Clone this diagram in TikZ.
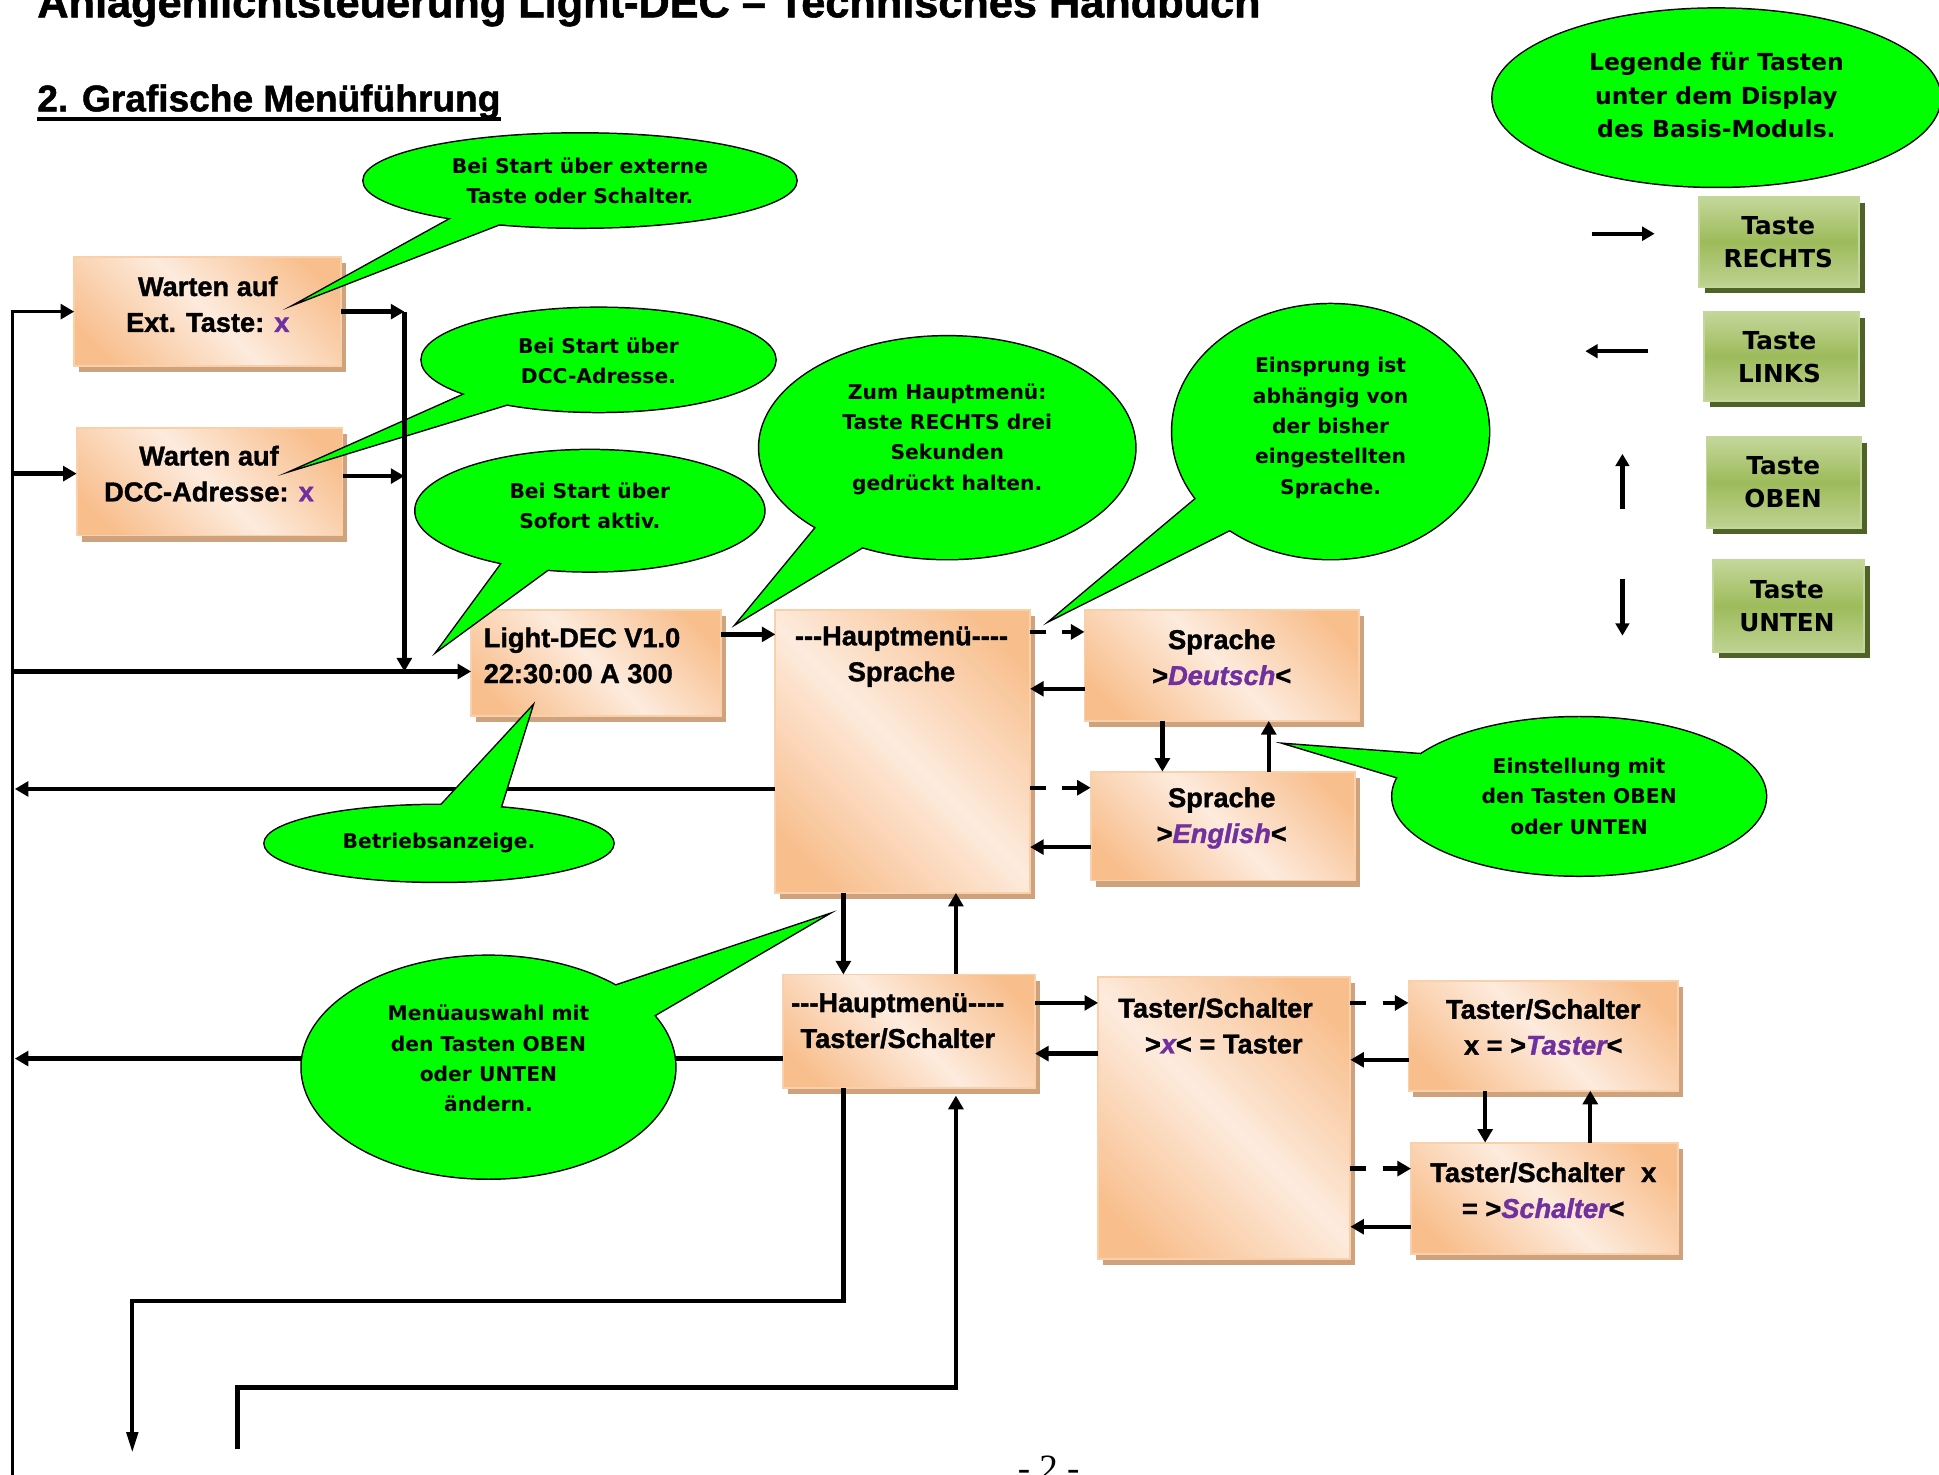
\documentclass[tikz,border=0pt]{standalone}
\usepackage{fontspec}
\setmainfont{Liberation Sans}[BoldFeatures={FakeBold=1.3}, BoldItalicFeatures={FakeBold=1.3}]
\newfontfamily\balfam{DejaVu Sans}
\newfontfamily\serfam{Liberation Serif}
\usetikzlibrary{arrows.meta,shadows,calc}
\definecolor{pdk}{HTML}{F8BE8C}
\definecolor{plt}{HTML}{FDEBDD}
\definecolor{pbd}{HTML}{FAD0AA}
\definecolor{psh}{HTML}{CFA27E}
\definecolor{balg}{HTML}{00FF00}
\definecolor{purp}{HTML}{7030A0}
\definecolor{lgl}{HTML}{C4D79B}
\definecolor{lgd}{HTML}{9DBB5B}
\definecolor{lsh}{HTML}{4F6228}
\pgfdeclarehorizontalshading{peachsh}{100bp}{color(0bp)=(pdk); color(22bp)=(pdk); color(50bp)=(plt); color(78bp)=(pdk); color(100bp)=(pdk)}
\newcommand\bxf{\fontsize{22pt}{29pt}\selectfont\bfseries}
\newcommand\blf{\balfam\fontsize{16.4pt}{24.5pt}\selectfont\bfseries}
\newcommand\lgf{\balfam\fontsize{19pt}{27pt}\selectfont\bfseries}
\newcommand\lbf{\balfam\fontsize{20pt}{27pt}\selectfont\bfseries}
\newcommand\purx[1]{\textcolor{purp}{#1}}
\newcommand\purit[1]{\textcolor{purp}{\itshape #1}}
\newcommand\mkballoon[6]{%
  \draw[line width=2.4pt] (#1) ellipse [x radius=#2pt, y radius=#3pt];
  \draw[line width=2.4pt, line join=miter, miter limit=30] ($(#4)!0.08!(#1)$) -- (#5) -- ($(#6)!0.08!(#1)$);
  \fill[balg] (#1) ellipse [x radius=#2pt, y radius=#3pt];
  \fill[balg] ($(#4)!0.08!(#1)$) -- (#5) -- ($(#6)!0.08!(#1)$) -- cycle;
}
\begin{document}
\begin{tikzpicture}[x=1pt,y=-1pt,
  pbox/.style={draw=pbd, line width=1.5pt, shade, shading=peachsh, shading angle=45,
    drop shadow={shadow xshift=4pt, shadow yshift=-5pt, fill=psh, opacity=1},
    inner sep=0pt, outer sep=0pt},
  lbox/.style={draw=lgl, line width=1.5pt, top color=lgl, bottom color=lgl!85!lgd, middle color=lgd,
    drop shadow={shadow xshift=5pt, shadow yshift=-5pt, fill=lsh, opacity=1},
    inner sep=0pt, outer sep=0pt},
  btxt/.style={font=\bxf, align=center, inner sep=0pt},
  baltxt/.style={font=\blf, align=center, inner sep=0pt},
  arr/.style={line width=3.5pt, -{Triangle[length=11pt,width=12pt]}},
  darr/.style={arr, dash pattern=on 13pt off 13pt},
  bus/.style={line width=3.5pt},
  lgarr/.style={line width=3.5pt, -{Triangle[length=10pt,width=11pt]}},
  thinarr/.style={line width=3.5pt, -{Triangle[length=17pt,width=9pt]}}
]
\useasboundingbox (0,0) rectangle (1568,1192);
\clip (0,0) rectangle (1568,1192);
\fill[white] (0,0) rectangle (1568,1192);

% headings
\node[anchor=base west, inner sep=0pt, font=\fontsize{35pt}{40pt}\selectfont\bfseries] (title) at (30,14) {Anlagenlichtsteuerung Light-DEC – Technisches Handbuch};
\node[anchor=base west, inner sep=0pt, font=\fontsize{30pt}{34pt}\selectfont\bfseries] (head) at (30,90) {2. Grafische Menüführung};
\draw[line width=3pt] ($(head.base west)+(0,6)$) -- ($(head.base east)+(0,6)$);

% boxes
\node[pbox, minimum width=216pt, minimum height=88pt] (b1) at (168,252) {};
\node[pbox, minimum width=215pt, minimum height=87pt] (b2) at (169.5,389.5) {};
\node[pbox, minimum width=202pt, minimum height=86pt] (b3) at (482,536) {};
\node[pbox, minimum width=206pt, minimum height=229pt] (b4) at (730,607.5) {};
\node[pbox, minimum width=222pt, minimum height=90pt] (b5) at (988,538) {};
\node[pbox, minimum width=214pt, minimum height=88pt] (b6) at (989,668) {};
\node[pbox, minimum width=204pt, minimum height=92pt] (b7) at (735,834) {};
\node[pbox, minimum width=204pt, minimum height=228pt] (b8) at (990,904) {};
\node[pbox, minimum width=218pt, minimum height=89pt] (b9) at (1248,837.5) {};
\node[pbox, minimum width=216pt, minimum height=90pt] (b10) at (1249,969) {};

\node[btxt] (t1) at (168,246) {Warten auf\\Ext. Taste: \purx{x}};
\node[btxt] (t2) at (169,383) {Warten auf\\DCC-Adresse: \purx{x}};
\node[btxt, align=left, anchor=west] (t3) at (391,530) {Light-DEC V1.0\\22:30:00 A 300};
\node[btxt] (t4) at (729,531) {-{}-{}-Hauptmenü-{}-{}-{}-\\Sprache};
\node[btxt] (t5) at (988,531.5) {Sprache\\>\purit{Deutsch}<};
\node[btxt] (t6) at (988,661.5) {Sprache\\>\purit{English}<};
\node[btxt] (t7) at (726,825.5) {-{}-{}-Hauptmenü-{}-{}-{}-\\Taster/Schalter};
\node[btxt] (t8) at (983,829.5) {Taster/Schalter\\\hspace{0.6em}>\purit{x}< = Taster};
\node[btxt] (t9) at (1248,830.5) {Taster/Schalter\\x = >\purit{Taster}<};
\node[btxt] (t10) at (1248,962.5) {Taster/Schalter\hspace{0.6em}x\\= >\purit{Schalter}<};

% legend boxes
\node[lbox, minimum width=129pt, minimum height=73pt] (l1) at (1438.5,195.5) {};
\node[lbox, minimum width=125pt, minimum height=72pt] (l2) at (1440.5,288) {};
\node[lbox, minimum width=125pt, minimum height=74pt] (l3) at (1442.5,390) {};
\node[lbox, minimum width=122pt, minimum height=74pt] (l4) at (1446,490) {};
\node[font=\lbf, align=center, inner sep=0pt] (lt1) at (1438,196) {Taste\\RECHTS};
\node[font=\lbf, align=center, inner sep=0pt] (lt2) at (1439,289) {Taste\\LINKS};
\node[font=\lbf, align=center, inner sep=0pt] (lt3) at (1442,390) {Taste\\OBEN};
\node[font=\lbf, align=center, inner sep=0pt] (lt4) at (1445,490) {Taste\\UNTEN};

% legend arrows
\coordinate (lra) at (1287,189); \coordinate (lrb) at (1338,189);
\coordinate (lla) at (1333,284); \coordinate (llb) at (1282,284);
\coordinate (lua) at (1312,412); \coordinate (lub) at (1312,367);
\coordinate (lda) at (1312,468); \coordinate (ldb) at (1312,514);
\draw[lgarr] (lra) -- (lrb);
\draw[lgarr] (lla) -- (llb);
\draw[lgarr] (lua) -- (lub);
\draw[lgarr] (lda) -- (ldb);

% connectors
\coordinate (busB) at (10,1200);
\coordinate (busT) at (10,252);
\coordinate (bus2) at (10,383);
\coordinate (bus3) at (10,543);
\coordinate (bus4) at (12,638);
\coordinate (bus5) at (12,856);
\coordinate (j1) at (327,252);
\coordinate (j2) at (327,385);
\coordinate (j3) at (327,543);
\draw[line width=3pt, -{Triangle[length=11pt,width=12pt]}] (busB) -- (busT) -- (b1.west);
\draw[arr] (bus2) -- (bus2 -| b2.west);
\draw[arr] (bus3) -- (bus3 -| b3.west);
\draw[arr] (b1.east) -- (j1);
\draw[arr] (j2 -| b2.east) -- (j2);
\draw[arr] (b3.east |- 0,513) -- (b4.west |- 0,513);
\draw[arr] (bus4 -| b4.west) -- (bus4);
\draw[darr] (b4.east |- 0,511) -- (b5.west |- 0,511);
\draw[arr] (b5.west |- 0,557) -- (b4.east |- 0,557);
\draw[darr] (b4.east |- 0,637) -- (b6.west |- 0,637);
\draw[arr] (b6.west |- 0,685) -- (b4.east |- 0,685);
\draw[arr] (b5.south -| 940,0) -- (b6.north -| 940,0);
\draw[arr] (b6.north -| 1026,0) -- (b5.south -| 1026,0);
\draw[arr] (b4.south -| 682,0) -- (b7.north -| 682,0);
\draw[arr] (b7.north -| 773,0) -- (b4.south -| 773,0);
\draw[arr] (bus5 -| b7.west) -- (bus5);
\draw[arr] (b7.east |- 0,811) -- (b8.west |- 0,811);
\draw[arr] (b8.west |- 0,852) -- (b7.east |- 0,852);
\draw[darr] (b8.east |- 0,811) -- (b9.west |- 0,811);
\draw[arr] (b9.west |- 0,857) -- (b8.east |- 0,857);
\draw[darr] (b8.east |- 0,945) -- (b10.west |- 0,945);
\draw[arr] (b10.west |- 0,992) -- (b8.east |- 0,992);
\draw[arr] (b9.south -| 1201,0) -- (b10.north -| 1201,0);
\draw[arr] (b10.north -| 1286,0) -- (b9.south -| 1286,0);
\coordinate (endA) at (107,1175);
\coordinate (startB) at (192,1172);
\draw[thinarr] (b7.south -| 682,0) -- (682,1052) -- (107,1052) -- (endA);
\draw[bus, -{Triangle[length=11pt,width=12pt]}] (startB) -- (192,1122) -- (773,1122) -- ($(b7.south -| 773,0)+(0,6)$);

% balloons
\mkballoon{469,146}{175}{38}{362,176}{245,243}{404,182}
\node[baltxt] (bal1) at (469,146) {Bei Start über externe\\Taste oder Schalter.};
\mkballoon{484,291}{143}{42}{376,317}{243,378}{417,326}
\node[baltxt] (bal2) at (484,292) {Bei Start über\\DCC-Adresse.};
\mkballoon{477,413}{141}{49}{411,444}{355,525}{460,450}
\node[baltxt] (bal3) at (477,409) {Bei Start über\\Sofort aktiv.};
\mkballoon{766,362}{152}{90}{660,421}{597,503}{707,440}
\node[baltxt] (bal4) at (766,355) {Zum Hauptmenü:\\Taste RECHTS drei\\Sekunden\\gedrückt halten.};
\mkballoon{1076,349}{128}{103}{965,402}{852,500}{998,430}
\node[baltxt] (bal5) at (1076,346) {Einsprung ist\\abhängig von\\der bisher\\eingestellten\\Sprache.};
\mkballoon{355,682}{141}{31}{350,656}{430,572}{408,654}
\node[baltxt] (bal6) at (355,682) {Betriebsanzeige.};
\mkballoon{1277,644}{151}{64}{1130,631}{1042,602}{1151,608}
\node[baltxt] (bal7) at (1277,644) {Einstellung mit\\den Tasten OBEN\\oder UNTEN};
\mkballoon{395,863}{151}{90}{496,795}{666,741}{531,823}
\node[baltxt] (bal8) at (395,856) {Menüauswahl mit\\den Tasten OBEN\\oder UNTEN\\ändern.};
\mkballoon{1388,79}{181}{72}{1388,79}{1388,79}{1388,79}
\node[font=\lgf, align=center, inner sep=0pt] (leg) at (1388,77) {Legende für Tasten\\unter dem Display\\des Basis-Moduls.};

% vertical junction line drawn last
\draw[arr] (j1) -- (j3);

% page number
\node[anchor=base, inner sep=0pt, font=\serfam\fontsize{30pt}{34pt}\selectfont] (pnum) at (848,1197) {- 2 -};
\end{tikzpicture}
\end{document}
